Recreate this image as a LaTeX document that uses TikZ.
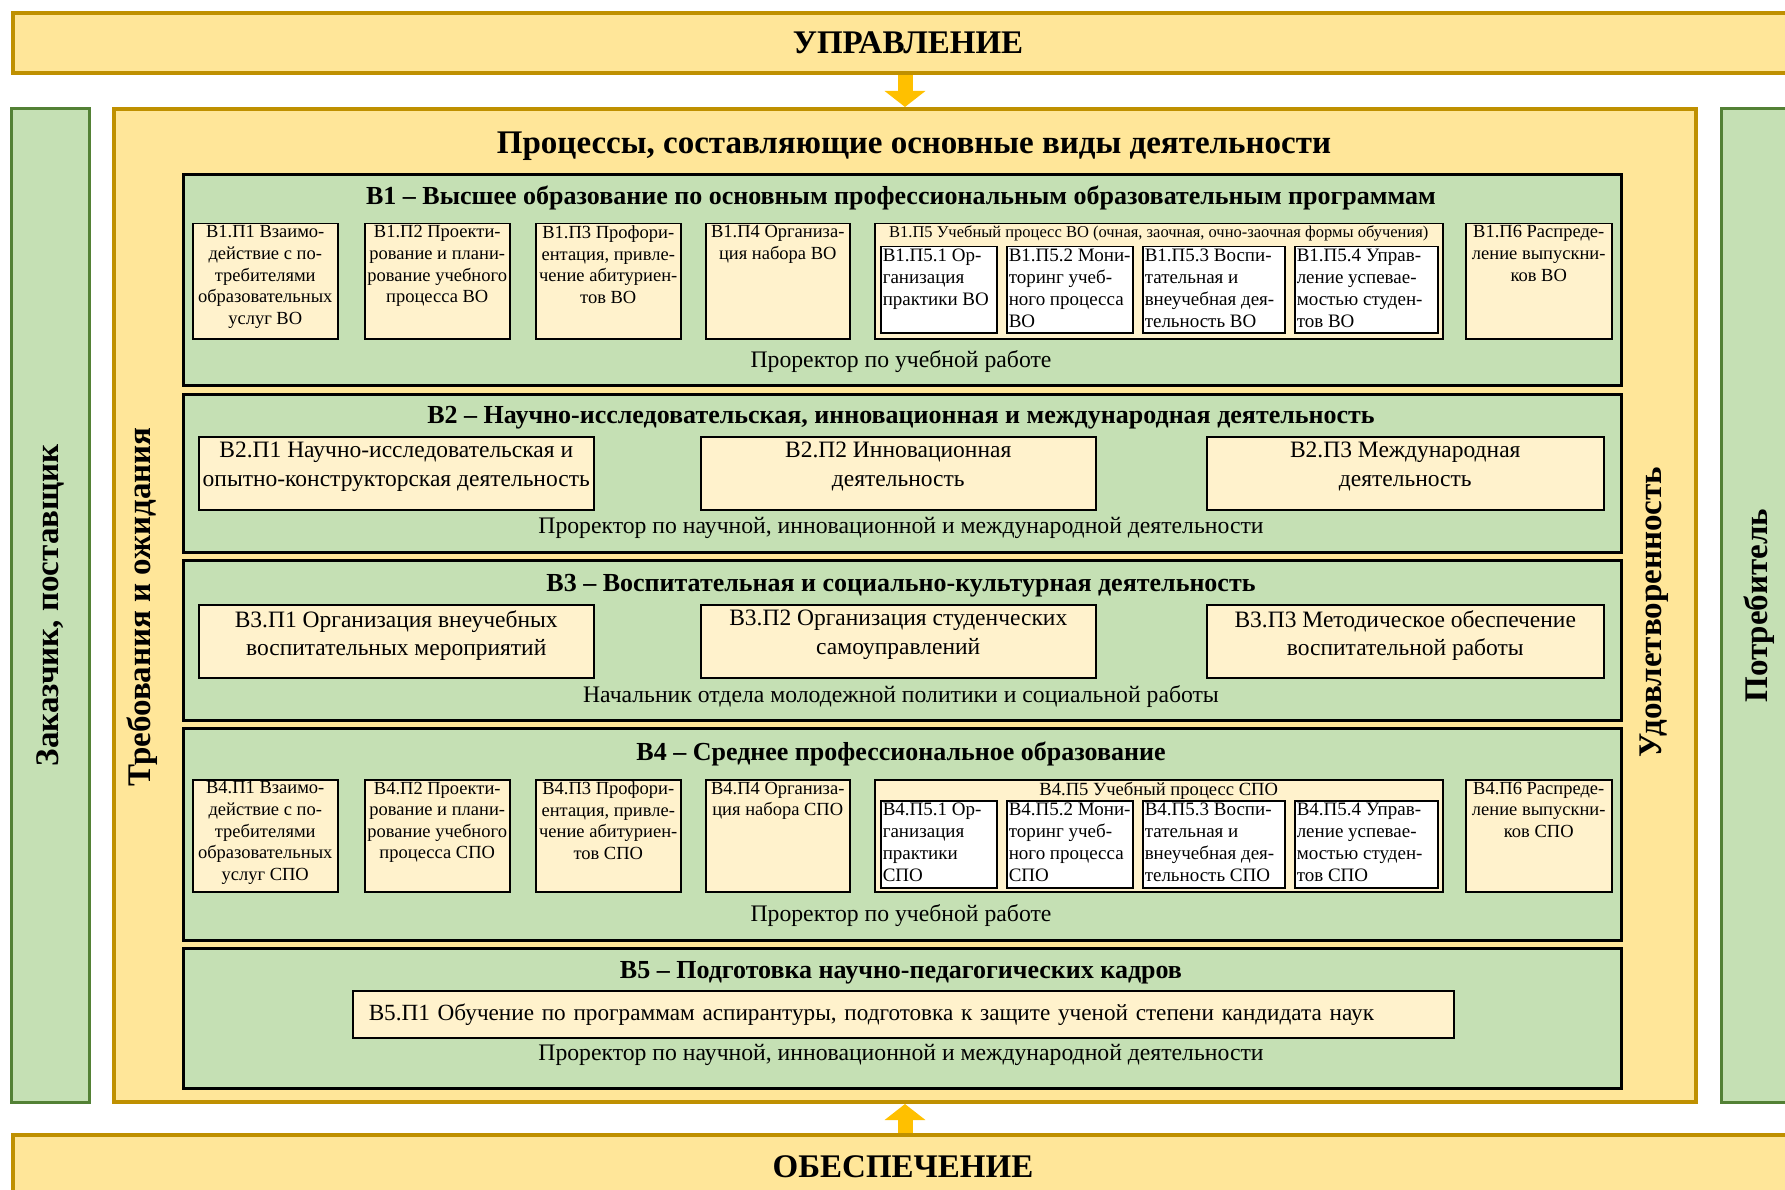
\documentclass[tikz,border=0pt]{standalone}
\usepackage{fontspec}
\setmainfont{Liberation Serif}
\usetikzlibrary{arrows.meta}

\definecolor{goldfill}{HTML}{FFE699}
\definecolor{goldline}{HTML}{BF9000}
\definecolor{greenfill}{HTML}{C5E0B4}
\definecolor{greenline}{HTML}{538135}
\definecolor{creamfill}{HTML}{FFF2CC}
\definecolor{arrowfill}{HTML}{FFC000}

% ячейка фиксированного размера, текст прижат к верху
\newcommand{\cell}[4][0pt]{\parbox[c][\dimexpr#3-4pt\relax][t]{\dimexpr#2-4pt\relax}{\vspace*{#1}#4}}

\tikzset{
  barbox/.style={draw=goldline, fill=goldfill, line width=4pt, anchor=north west,
    font=\bfseries\fontsize{33}{36}\selectfont},
  sidebox/.style={draw=greenline, fill=greenfill, line width=3pt, rotate=90,
    font=\bfseries\fontsize{33}{36}\selectfont},
  procbox/.style={draw=goldline, fill=goldfill, line width=4pt},
  blockbox/.style={draw=black, fill=greenfill, line width=3pt, anchor=north west},
  subbox/.style={draw=black, fill=creamfill, line width=1.5pt, inner sep=2pt, anchor=north west},
  innerbox/.style={draw=black, fill=white, line width=1.5pt, inner sep=2pt, anchor=north west},
  vtext/.style={rotate=90, font=\bfseries\fontsize{33}{36}\selectfont},
  btitle/.style={font=\bfseries\fontsize{26}{30}\selectfont},
  chief/.style={font=\fontsize{23.7}{26}\selectfont},
  supply/.style={-{Triangle[width=40pt,length=16pt]}, line width=15pt, draw=arrowfill},
}

\newcommand{\smallp}{\fontsize{18.5}{21.6}\selectfont}
\newcommand{\innerp}{\fontsize{19}{22}\selectfont}
\newcommand{\midp}{\fontsize{23.5}{28.5}\selectfont}

\begin{document}
\begin{tikzpicture}[x=1pt,y=-1pt]
  \useasboundingbox (0,0) rectangle (1785,1190);

  % Управление и обеспечение
  \node[barbox, minimum width=1790pt, minimum height=60pt] (upr) at (11,11) {УПРАВЛЕНИЕ};
  \node[barbox, minimum width=1780pt, minimum height=64pt] (obes) at (11,1133) {ОБЕСПЕЧЕНИЕ};

  % Боковые блоки
  \node[sidebox, minimum width=993pt, minimum height=78pt] (cust) at (50,605.5) {Заказчик, поставщик};
  \node[sidebox, minimum width=993pt, minimum height=76pt] (cons) at (1759,605.5) {Потребитель};

  % Основной блок
  \node[procbox, minimum width=1582pt, minimum height=993pt] (proc) at (905,605.5) {};
  \node[font=\bfseries\fontsize{33}{38}\selectfont] (proct) at (914,146) {Процессы, составляющие основные виды деятельности};
  \node[vtext] (req) at (142,607) {Требования и ожидания};
  \node[vtext] (sat) at (1654,612) {Удовлетворенность};

  % Стрелки
  \draw[supply] (upr.south -| proc.north) -- (proc.north);
  \draw[supply] (obes.north -| proc.south) -- (proc.south);

  % В1
  \node[blockbox, minimum width=1438pt, minimum height=211pt] (b1) at (182,173) {};
  \node[btitle] (b1t) at (901,198) {В1 – Высшее образование по основным профессиональным образовательным программам};
  \node[subbox] (b1p1) at (192,223) {\cell{145pt}{115pt}{\centering\smallp В1.П1 Взаимо-\\действие с по-\\требителями\\образовательных\\услуг ВО}};
  \node[subbox] (b1p2) at (364,223) {\cell{145pt}{115pt}{\centering\smallp В1.П2 Проекти-\\рование и плани-\\рование учебного\\процесса ВО}};
  \node[subbox] (b1p3) at (535,223) {\cell{145pt}{115pt}{\centering\smallp В1.П3 Профори-\\ентация, привле-\\чение абитуриен-\\тов ВО}};
  \node[subbox] (b1p4) at (705,223) {\cell{144pt}{115pt}{\centering\smallp В1.П4 Организа-\\ция набора ВО}};
  \node[subbox] (b1p5) at (874,223) {\cell{568pt}{115pt}{\centering\fontsize{16.5}{18}\selectfont В1.П5 Учебный процесс ВО (очная, заочная, очно-заочная формы обучения)}};
  \node[innerbox] (b1p51) at (880,246) {\cell{116pt}{86pt}{\raggedright\innerp В1.П5.1 Ор-\\ганизация\\практики ВО}};
  \node[innerbox] (b1p52) at (1006,246) {\cell{126pt}{86pt}{\raggedright\innerp В1.П5.2 Мони-\\торинг учеб-\\ного процесса\\ВО}};
  \node[innerbox] (b1p53) at (1142,246) {\cell{142pt}{86pt}{\raggedright\innerp В1.П5.3 Воспи-\\тательная и\\внеучебная дея-\\тельность ВО}};
  \node[innerbox] (b1p54) at (1294,246) {\cell{143pt}{86pt}{\raggedright\innerp В1.П5.4 Управ-\\ление успевае-\\мостью студен-\\тов ВО}};
  \node[subbox] (b1p6) at (1465,223) {\cell{146pt}{115pt}{\centering\smallp В1.П6 Распреде-\\ление выпускни-\\ков ВО}};
  \node[chief] (b1c) at (901,362) {Проректор по учебной работе};

  % В2
  \node[blockbox, minimum width=1438pt, minimum height=158pt] (b2) at (182,393) {};
  \node[btitle] (b2t) at (901,418) {В2 – Научно-исследовательская, инновационная и международная деятельность};
  \node[subbox] (b2p1) at (198,436) {\cell[3.5pt]{395pt}{73pt}{\centering\midp В2.П1 Научно-исследовательская и\\опытно-конструкторская деятельность}};
  \node[subbox] (b2p2) at (700,436) {\cell[3.5pt]{395pt}{73pt}{\centering\midp В2.П2 Инновационная\\деятельность}};
  \node[subbox] (b2p3) at (1206,436) {\cell[3.5pt]{397pt}{73pt}{\centering\midp В2.П3 Международная\\деятельность}};
  \node[chief] (b2c) at (901,528) {Проректор по научной, инновационной и международной деятельности};

  % В3
  \node[blockbox, minimum width=1438pt, minimum height=160pt] (b3) at (182,559) {};
  \node[btitle] (b3t) at (901,586) {В3 – Воспитательная и социально-культурная деятельность};
  \node[subbox] (b3p1) at (198,604) {\cell[3.5pt]{395pt}{73pt}{\centering\midp В3.П1 Организация внеучебных\\воспитательных мероприятий}};
  \node[subbox] (b3p2) at (700,604) {\cell[3.5pt]{395pt}{73pt}{\centering\midp В3.П2 Организация студенческих\\самоуправлений}};
  \node[subbox] (b3p3) at (1206,604) {\cell[3.5pt]{397pt}{73pt}{\centering\midp В3.П3 Методическое обеспечение\\воспитательной работы}};
  \node[chief] (b3c) at (901,697) {Начальник отдела молодежной политики и социальной работы};

  % В4
  \node[blockbox, minimum width=1438pt, minimum height=212pt] (b4) at (182,727) {};
  \node[btitle] (b4t) at (901,754) {В4 – Среднее профессиональное образование};
  \node[subbox] (b4p1) at (192,779) {\cell{145pt}{112pt}{\centering\smallp В4.П1 Взаимо-\\действие с по-\\требителями\\образовательных\\услуг СПО}};
  \node[subbox] (b4p2) at (364,779) {\cell{145pt}{112pt}{\centering\smallp В4.П2 Проекти-\\рование и плани-\\рование учебного\\процесса СПО}};
  \node[subbox] (b4p3) at (535,779) {\cell{145pt}{112pt}{\centering\smallp В4.П3 Профори-\\ентация, привле-\\чение абитуриен-\\тов СПО}};
  \node[subbox] (b4p4) at (705,779) {\cell{144pt}{112pt}{\centering\smallp В4.П4 Организа-\\ция набора СПО}};
  \node[subbox] (b4p5) at (874,779) {\cell{568pt}{112pt}{\centering\fontsize{18.6}{20}\selectfont В4.П5 Учебный процесс СПО}};
  \node[innerbox] (b4p51) at (880,800) {\cell{116pt}{87pt}{\raggedright\innerp В4.П5.1 Ор-\\ганизация\\практики\\СПО}};
  \node[innerbox] (b4p52) at (1006,800) {\cell{126pt}{87pt}{\raggedright\innerp В4.П5.2 Мони-\\торинг учеб-\\ного процесса\\СПО}};
  \node[innerbox] (b4p53) at (1142,800) {\cell{142pt}{87pt}{\raggedright\innerp В4.П5.3 Воспи-\\тательная и\\внеучебная дея-\\тельность СПО}};
  \node[innerbox] (b4p54) at (1294,800) {\cell{143pt}{87pt}{\raggedright\innerp В4.П5.4 Управ-\\ление успевае-\\мостью студен-\\тов СПО}};
  \node[subbox] (b4p6) at (1465,779) {\cell{146pt}{112pt}{\centering\smallp В4.П6 Распреде-\\ление выпускни-\\ков СПО}};
  \node[chief] (b4c) at (901,916) {Проректор по учебной работе};

  % В5
  \node[blockbox, minimum width=1438pt, minimum height=140pt] (b5) at (182,947) {};
  \node[btitle] (b5t) at (901,973) {В5 – Подготовка научно-педагогических кадров};
  \node[subbox, minimum width=1101pt, minimum height=47pt, inner xsep=16pt, text width=1069pt, align=left, font=\fontsize{23.2}{28}\selectfont] (b5p1) at (352,990) {В5.П1 Обучение по программам аспирантуры, подготовка к защите ученой степени кандидата наук};
  \node[chief] (b5c) at (901,1055) {Проректор по научной, инновационной и международной деятельности};
\end{tikzpicture}
\end{document}
